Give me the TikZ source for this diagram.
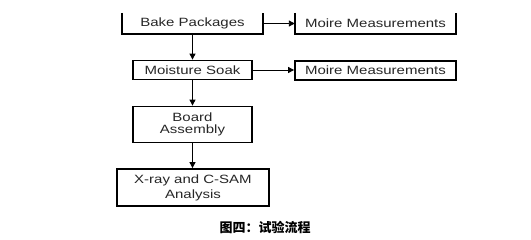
\documentclass[tikz,border=0pt]{standalone}
\usepackage{fontspec}
\setmainfont{Liberation Sans}[FakeStretch=1.25]
\newfontfamily\cjkfont{Noto Sans CJK SC}
\usepackage{tikz}
\usetikzlibrary{arrows.meta, positioning, calc}

\begin{document}
\begin{tikzpicture}[
      x=1pt, y=-1pt,
      font=\fontsize{12}{12.5}\selectfont,
      stepbox/.style={draw, line width=1.8pt, inner sep=0pt, align=center,
                      text=black!85, minimum height=19pt},
      openbox/.style={inner sep=0pt, align=center, text=black!85,
                      minimum height=21pt},
      flow/.style={line width=0.9pt, -{Triangle[length=6pt, width=6pt]}},
    ]
    % page frame (reference is 531 x 239 px, one px drawn as one pt)
    \useasboundingbox (0,0) rectangle (531,239);

    % boxes whose top edge is cut off
    \node[openbox, minimum width=141pt] (bake) at (192.5,23.5) {Bake Packages};
    \node[openbox, minimum width=161pt] (moireA) at (375.5,23.5) {Moire Measurements};
    \draw[line width=1.8pt] (bake.north west) -- (bake.south west)
      -- (bake.south east) -- (bake.north east);
    \draw[line width=1.8pt] (moireA.north west) -- (moireA.south west)
      -- (moireA.south east) -- (moireA.north east);

    % main column
    \node[stepbox, minimum width=119pt] (soak) at (192.5,70) {Moisture Soak};
    \node[stepbox, minimum width=161pt] (moireB) at (375.5,70.5) {Moire Measurements};
    \node[stepbox, minimum width=119pt, minimum height=36pt] (board) at (192.5,124.5)
      {Board\\Assembly};
    \node[stepbox, minimum width=152pt, minimum height=37pt] (xray) at (193,187.5)
      {X-ray and C-SAM\\[2.5pt]Analysis};

    % connectors
    \draw[flow] (bake.south) -- (soak.north);
    \draw[flow] (soak.south) -- (board.north);
    \draw[flow] (board.south) -- (board.south |- xray.north);
    \draw[flow] (bake.east) -- (bake.east -| moireA.west);
    \draw[flow] (soak.east) -- (soak.east -| moireB.west);

    % caption
    \node[font=\cjkfont\bfseries\fontsize{13}{13}\selectfont] (caption) at (265,227)
      {图四：试验流程};
  \end{tikzpicture}
\end{document}
